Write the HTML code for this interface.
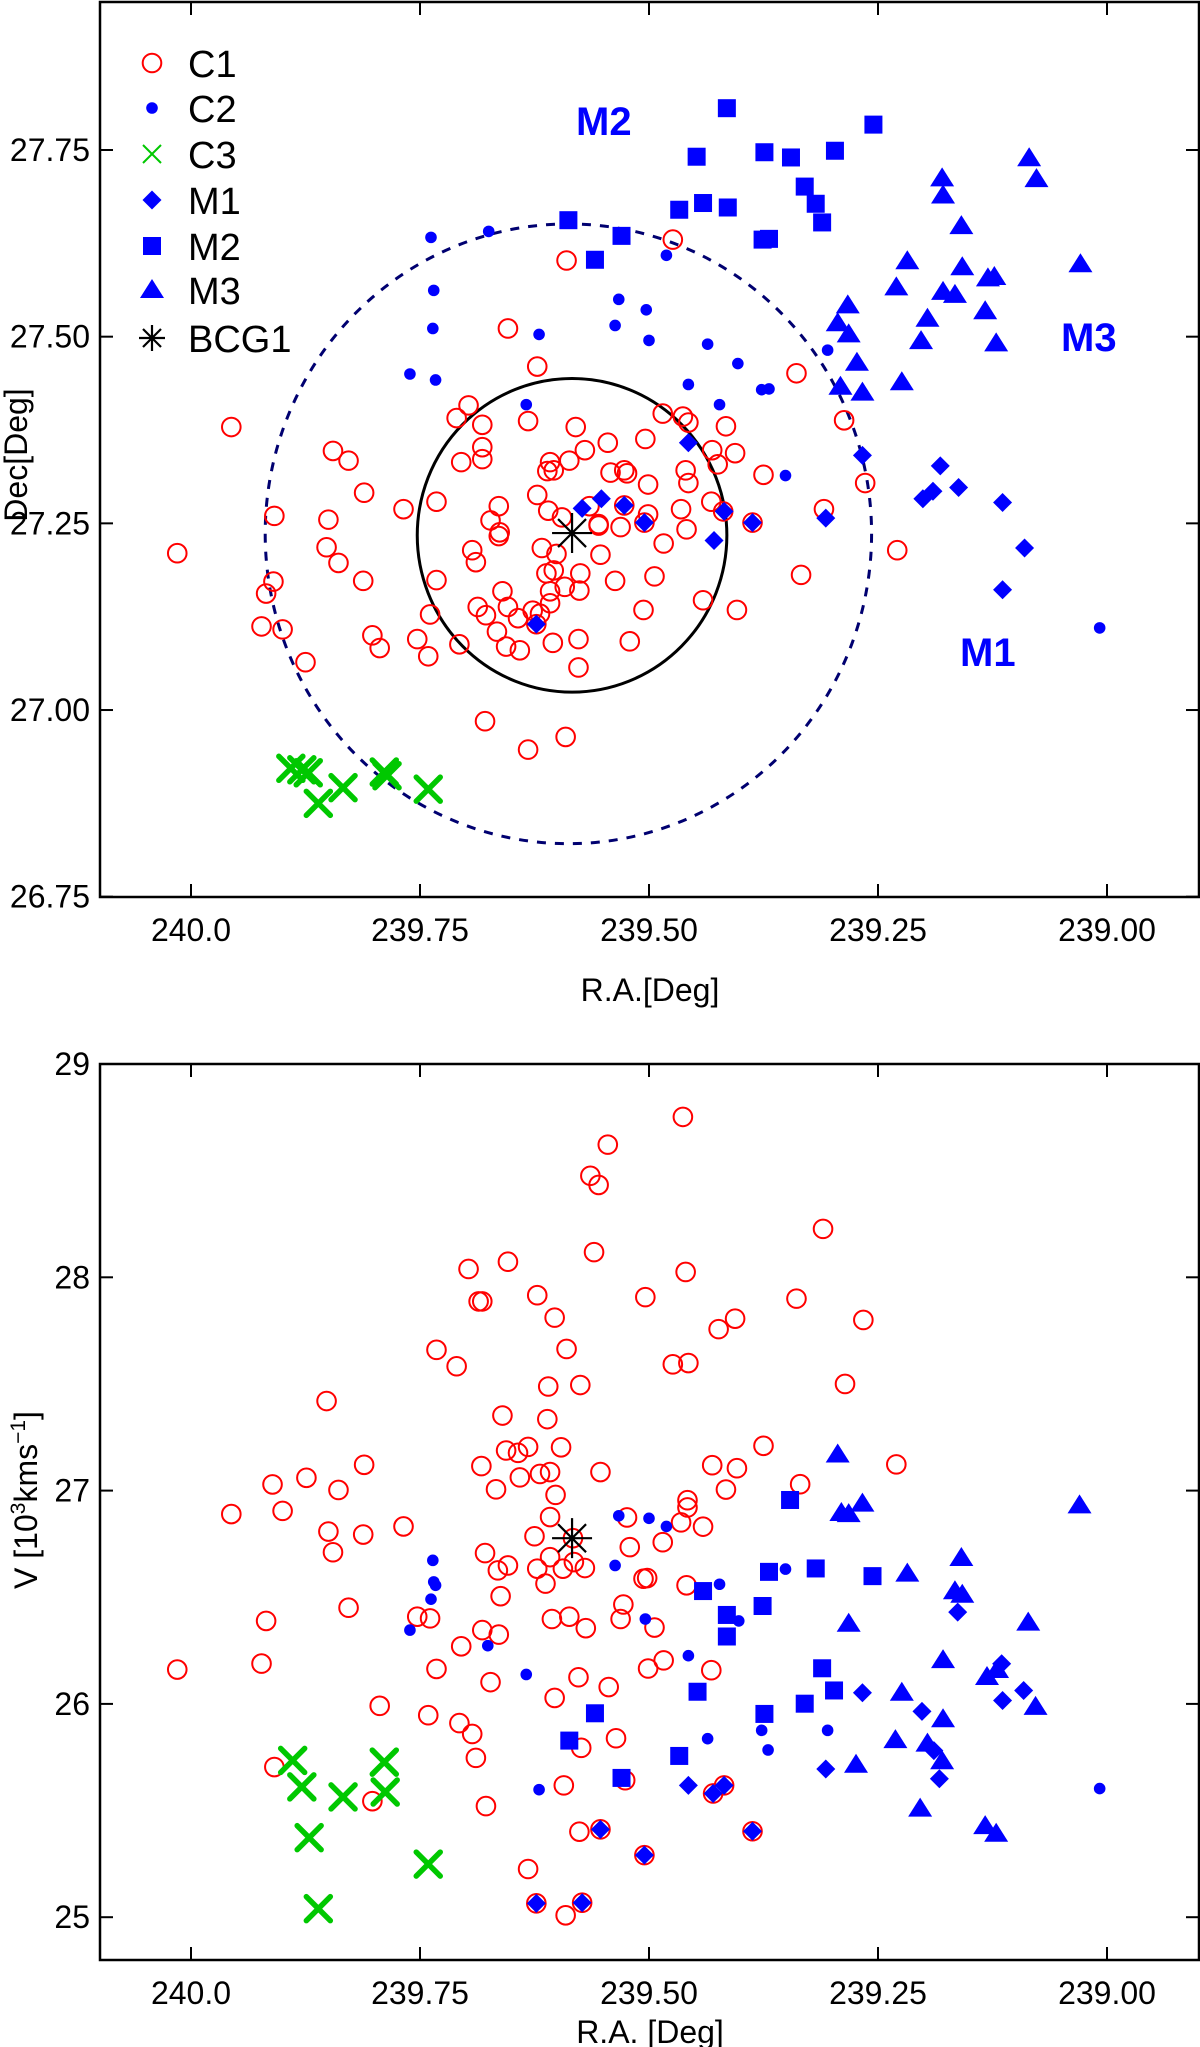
<!DOCTYPE html>
<html><head><meta charset="utf-8"><style>
html,body{margin:0;padding:0;background:#fff;}
svg{display:block;font-family:"Liberation Sans",Arial,sans-serif;}
</style></head><body>
<svg id="fig" width="1200" height="2047" viewBox="0 0 1200 2047" xmlns="http://www.w3.org/2000/svg">
<g id="topPanel"></g>
<g id="botPanel"></g>
</svg>
<script>
// ---- axis ticks ----
const raTicks = [240.0, 239.75, 239.50, 239.25, 239.00];
const raTickLabels = ["240.0", "239.75", "239.50", "239.25", "239.00"];
const decTicks = [27.75, 27.50, 27.25, 27.00, 26.75];
const decTickLabels = ["27.75", "27.50", "27.25", "27.00", "26.75"];
const vTicks = [29, 28, 27, 26, 25];
const vTickLabels = ["29", "28", "27", "26", "25"];

// ---- top panel (RA, Dec) ----
const topC1ra = [239.956,240.015,239.909,239.910,239.918,239.923,239.900,239.875,239.845,239.828,239.811,239.850,239.852,239.839,239.812,239.802,239.794,239.768,239.732,239.732,239.739,239.753,239.741,239.707,239.710,239.697,239.682,239.682,239.682,239.705,239.654,239.622,239.632,239.664,239.673,239.664,239.663,239.693,239.689,239.622,239.617,239.660,239.654,239.687,239.678,239.666,239.643,239.627,239.619,239.656,239.641,239.679,239.632,239.591,239.611,239.610,239.612,239.608,239.623,
239.474,239.590,239.339,239.287,239.264,239.309,239.229,239.334,239.404,239.441,239.506,239.521,239.577,239.577,239.605,239.494,239.537,239.575,239.576,239.592,239.553,239.484,239.459,239.465,239.432,239.419,239.387,239.501,239.505,239.531,239.555,239.527,239.501,239.457,239.460,239.542,239.527,239.524,239.587,239.608,239.570,239.545,239.504,239.580,239.485,239.463,239.457,239.416,239.431,239.425,239.406,239.375,239.565,239.555,239.604,239.595,239.601,239.604,239.608];
const topC1dec = [27.379,27.210,27.260,27.172,27.156,27.112,27.108,27.064,27.347,27.334,27.291,27.255,27.218,27.197,27.173,27.100,27.083,27.269,27.279,27.174,27.128,27.095,27.072,27.088,27.391,27.408,27.382,27.352,27.336,27.332,27.511,27.460,27.387,27.273,27.254,27.233,27.238,27.214,27.198,27.288,27.217,27.159,27.138,27.138,27.127,27.105,27.123,27.133,27.129,27.085,27.080,26.985,26.947,26.964,27.320,27.267,27.183,27.159,27.115,
27.630,27.602,27.451,27.388,27.304,27.269,27.214,27.181,27.134,27.147,27.134,27.092,27.095,27.057,27.090,27.179,27.173,27.183,27.160,27.165,27.208,27.223,27.242,27.269,27.279,27.266,27.251,27.262,27.251,27.245,27.249,27.274,27.302,27.304,27.321,27.318,27.321,27.317,27.334,27.332,27.348,27.358,27.363,27.379,27.397,27.393,27.385,27.380,27.348,27.329,27.344,27.315,27.273,27.247,27.321,27.258,27.209,27.187,27.143];
const topC2ra = [239.738,239.675,239.735,239.736,239.761,239.733,239.620,239.634,239.481,239.533,239.503,239.537,239.500,239.436,239.403,239.305,239.457,239.377,239.369,239.423,239.351,239.008];
const topC2dec = [27.633,27.641,27.562,27.511,27.450,27.442,27.503,27.409,27.609,27.550,27.536,27.515,27.495,27.490,27.464,27.482,27.436,27.429,27.430,27.409,27.314,27.110];
const topC3ra = [239.891,239.879,239.872,239.861,239.834,239.789,239.741,239.786];
const topC3dec = [26.922,26.920,26.916,26.875,26.896,26.917,26.894,26.912];
const topM1ra = [239.457,239.267,239.182,239.190,239.201,239.162,239.114,239.090,239.114,239.307,239.387,239.418,239.429,239.505,239.527,239.552,239.573,239.623];
const topM1dec = [27.358,27.341,27.327,27.293,27.283,27.298,27.278,27.217,27.161,27.257,27.251,27.266,27.227,27.251,27.274,27.283,27.270,27.115];
const topM2ra = [239.415,239.255,239.448,239.374,239.345,239.297,239.330,239.318,239.311,239.467,239.441,239.414,239.588,239.530,239.559,239.376,239.369];
const topM2dec = [27.806,27.784,27.741,27.747,27.740,27.749,27.701,27.678,27.653,27.670,27.679,27.673,27.656,27.635,27.603,27.630,27.631];
const topM3ra = [239.085,239.077,239.180,239.179,239.159,239.218,239.158,239.130,239.123,239.029,239.230,239.179,239.166,239.283,239.196,239.133,239.294,239.282,239.203,239.121,239.273,239.224,239.291,239.267];
const topM3dec = [27.739,27.711,27.712,27.689,27.648,27.601,27.593,27.578,27.580,27.597,27.566,27.560,27.556,27.542,27.524,27.534,27.518,27.503,27.494,27.491,27.465,27.439,27.433,27.425];
const bcgRa = [239.584];
const bcgDec = [27.237];
const bcgV = [26.777];
const innerCircle = [239.584, 27.234, 0.169, 0.210];
const outerCircle = [239.588, 27.236, 0.331, 0.415];

// ---- bottom panel (RA, V) ----
const botC1ra = [239.463,239.545,239.564,239.555,239.560,239.697,239.654,239.460,239.686,239.682,239.622,239.504,239.603,239.406,239.424,239.732,239.710,239.590,239.474,239.457,239.610,239.575,239.852,239.660,239.611,239.656,239.643,239.632,239.596,239.683,239.553,239.431,239.404,239.811,239.874,239.911,239.839,239.667,239.641,239.619,239.608,239.602,239.416,239.458,
239.956,239.900,239.850,239.812,239.845,239.768,239.679,239.665,239.654,239.662,239.625,239.608,239.622,239.608,239.594,239.582,239.583,239.570,239.613,239.524,239.521,239.485,239.465,239.441,239.458,239.506,239.502,239.459,239.528,239.531,239.494,239.606,239.587,239.569,239.753,239.739,239.682,239.664,239.705,239.828,239.918,239.923,240.015,239.732,239.673,239.577,239.544,239.603,239.501,239.484,239.432,239.794,239.741,239.707,239.693,239.689,239.536,239.574,239.909,239.802,239.678,239.593,239.526,239.430,239.418,239.576,239.553,239.505,239.632,239.623,239.573,239.591,
239.375,239.230,239.335,239.387,239.310,239.339,239.286,239.266];
const botC1v = [28.752,28.622,28.476,28.433,28.118,28.039,28.073,28.025,27.887,27.887,27.916,27.907,27.811,27.806,27.757,27.660,27.583,27.664,27.592,27.598,27.488,27.495,27.420,27.352,27.335,27.188,27.177,27.205,27.203,27.115,27.087,27.119,27.105,27.121,27.060,27.029,27.003,27.006,27.062,27.078,27.087,26.980,27.005,26.955,
26.890,26.905,26.808,26.794,26.711,26.832,26.707,26.626,26.649,26.505,26.786,26.876,26.634,26.688,26.634,26.665,26.777,26.637,26.564,26.874,26.735,26.758,26.851,26.831,26.921,26.587,26.590,26.556,26.466,26.398,26.358,26.398,26.409,26.355,26.409,26.401,26.346,26.325,26.270,26.451,26.389,26.189,26.161,26.164,26.102,26.125,26.079,26.028,26.166,26.204,26.158,25.991,25.947,25.910,25.859,25.747,25.839,25.794,25.704,25.544,25.521,25.618,25.642,25.580,25.618,25.401,25.412,25.291,25.226,25.065,25.068,25.009,
27.210,27.123,27.030,25.403,28.227,27.900,27.500,27.800];
const botC2ra = [239.736,239.735,239.733,239.738,239.761,239.676,239.634,239.537,239.533,239.500,239.481,239.423,239.504,239.402,239.457,239.436,239.620,239.351,239.377,239.370,239.305,239.008];
const botC2v = [26.673,26.572,26.556,26.491,26.346,26.273,26.138,26.649,26.882,26.870,26.832,26.561,26.398,26.389,26.226,25.837,25.598,26.632,25.876,25.784,25.876,25.603];
const botC3ra = [239.889,239.879,239.834,239.789,239.788,239.871,239.741,239.861];
const botC3v = [25.735,25.611,25.564,25.727,25.587,25.373,25.249,25.040];
const botM1ra = [239.553,239.505,239.623,239.573,239.457,239.430,239.418,239.163,239.267,239.202,239.114,239.091,239.115,239.189,239.183,239.307,239.387];
const botM1v = [25.412,25.291,25.065,25.068,25.618,25.580,25.618,26.430,26.052,25.965,26.016,26.063,26.188,25.781,25.649,25.695,25.403];
const botM2ra = [239.441,239.415,239.415,239.447,239.559,239.587,239.530,239.467,239.346,239.369,239.318,239.256,239.376,239.311,239.298,239.330,239.374];
const botM2v = [26.529,26.417,26.316,26.057,25.956,25.828,25.653,25.756,26.956,26.619,26.635,26.599,26.459,26.167,26.063,26.001,25.953];
const botM3ra = [239.294,239.267,239.290,239.282,239.159,239.218,239.166,239.158,239.282,239.086,239.179,239.131,239.120,239.224,239.078,239.179,239.231,239.196,239.180,239.274,239.204,239.133,239.121,239.030];
const botM3v = [27.169,26.939,26.895,26.890,26.684,26.611,26.528,26.512,26.376,26.381,26.205,26.126,26.159,26.052,25.986,25.928,25.830,25.814,25.731,25.715,25.509,25.427,25.391,26.931];

const NS = "http://www.w3.org/2000/svg";
const RED = "#ff0000", BLUE = "#0000ff", GREEN = "#00c800";
function X(ra){ return 191 + (240 - ra) * 916; }
function Ytop(d){ return 150 + (27.75 - d) * 746.7; }
function Ybot(v){ return 1064 + (29 - v) * 213.3; }
function mk(tag, parent, attrs){
  const e = document.createElementNS(NS, tag);
  for (const k in attrs) e.setAttribute(k, attrs[k]);
  parent.appendChild(e); return e;
}
function txt(parent, x, y, s, size, anchor, extra){
  const t = mk("text", parent, Object.assign({x:x, y:y, "font-size":size, "text-anchor":anchor, fill:"#000"}, extra||{}));
  t.textContent = s; return t;
}
function marker(parent, kind, cx, cy, name, big){
  let e;
  if (kind === "c1") { e = mk("circle", parent, {cx:cx, cy:cy, r:9.3, fill:"none", stroke:RED, "stroke-width":2}); }
  else if (kind === "c2") { e = mk("circle", parent, {cx:cx, cy:cy, r:5.8, fill:BLUE}); }
  else if (kind === "m1") { e = mk("polygon", parent, {points:`${cx},${cy-9.5} ${cx+9.5},${cy} ${cx},${cy+9.5} ${cx-9.5},${cy}`, fill:BLUE}); }
  else if (kind === "m2") { e = mk("rect", parent, {x:cx-9, y:cy-9, width:18, height:18, fill:BLUE}); }
  else if (kind === "m3") { e = mk("polygon", parent, {points:`${cx},${cy-11} ${cx+12},${cy+8} ${cx-12},${cy+8}`, fill:BLUE}); }
  else if (kind === "c3") {
    const s = big ? 12 : 9, w = big ? 5.5 : 2;
    e = mk("path", parent, {d:`M${cx-s},${cy-s}L${cx+s},${cy+s}M${cx+s},${cy-s}L${cx-s},${cy+s}`, stroke:GREEN, "stroke-width":w, "stroke-linecap":big?"round":"butt", fill:"none"});
  } else {
    const s = big ? 20 : 13, d = big ? 14 : 9;
    e = mk("path", parent, {d:`M${cx-s},${cy}L${cx+s},${cy}M${cx},${cy-s}L${cx},${cy+s}M${cx-d},${cy-d}L${cx+d},${cy+d}M${cx+d},${cy-d}L${cx-d},${cy+d}`, stroke:"#000", "stroke-width":2.2, fill:"none"});
  }
  
  
  return e;
}
function series(parent, kind, xs, ys, yfn, name){
  const g = mk("g", parent, {});
  
  
  for (let i = 0; i < xs.length; i++) marker(g, kind, X(xs[i]), yfn(ys[i]), name + '-point', true);
}
function frame(parent, y0, y1, yTicks, yLabels, yfn, prefix){
  const f = mk("rect", parent, {x:100, y:y0, width:1099, height:y1-y0, fill:"none", stroke:"#000", "stroke-width":2.5});
  
  
  for (let i = 0; i < raTicks.length; i++) {
    const x = X(raTicks[i]);
    mk("line", parent, {x1:x, y1:y1, x2:x, y2:y1-13, stroke:"#000", "stroke-width":2});
    mk("line", parent, {x1:x, y1:y0, x2:x, y2:y0+13, stroke:"#000", "stroke-width":2});
    const t = txt(parent, x, y1+44, raTickLabels[i], 32, "middle");
    
    
  }
  for (let i = 0; i < yTicks.length; i++) {
    const y = yfn(yTicks[i]);
    mk("line", parent, {x1:100, y1:y, x2:113, y2:y, stroke:"#000", "stroke-width":2});
    mk("line", parent, {x1:1199, y1:y, x2:1186, y2:y, stroke:"#000", "stroke-width":2});
    const t = txt(parent, 90, y+11, yLabels[i], 32, "end");
    
    
  }
}

// ===== TOP PANEL =====
const topG = document.getElementById("topPanel");
frame(topG, 2, 897, decTicks, decTickLabels, Ytop, "top");
const oc = mk("ellipse", topG, {cx:X(outerCircle[0]), cy:Ytop(outerCircle[1]), rx:outerCircle[2]*916, ry:outerCircle[3]*746.7, fill:"none", stroke:"#000070", "stroke-width":3, "stroke-dasharray":"9 9"});


const ic = mk("ellipse", topG, {cx:X(innerCircle[0]), cy:Ytop(innerCircle[1]), rx:innerCircle[2]*916, ry:innerCircle[3]*746.7, fill:"none", stroke:"#000", "stroke-width":3});


series(topG, "c1", topC1ra, topC1dec, Ytop, "top-c1");
series(topG, "c2", topC2ra, topC2dec, Ytop, "top-c2");
series(topG, "c3", topC3ra, topC3dec, Ytop, "top-c3");
series(topG, "m1", topM1ra, topM1dec, Ytop, "top-m1");
series(topG, "m2", topM2ra, topM2dec, Ytop, "top-m2");
series(topG, "m3", topM3ra, topM3dec, Ytop, "top-m3");
series(topG, "bcg", bcgRa, bcgDec, Ytop, "top-bcg1");
const lblM2 = txt(topG, 576, 135, "M2", 40, "start", {fill:BLUE, "font-weight":"bold"});


const lblM3 = txt(topG, 1061, 351, "M3", 40, "start", {fill:BLUE, "font-weight":"bold"});


const lblM1 = txt(topG, 960, 666, "M1", 40, "start", {fill:BLUE, "font-weight":"bold"});


const topXT = txt(topG, 650, 1001, "R.A.[Deg]", 32, "middle");


const topYT = txt(topG, 0, 0, "Dec[Deg]", 32, "middle", {transform:"translate(27,455) rotate(-90)"});



const lg = mk("g", topG, {});


const legKinds = ["c1","c2","c3","m1","m2","m3","bcg"];
const legLabels = ["C1","C2","C3","M1","M2","M3","BCG1"];
const legRows = [63,108,154,200,246,290,338];
for (let i = 0; i < legKinds.length; i++) {
  marker(lg, legKinds[i], 152, legRows[i], 'legend-marker-' + legLabels[i].toLowerCase(), false);
  const t = txt(lg, 188, legRows[i]+14, legLabels[i], 38, "start");
  
  
}

// ===== BOTTOM PANEL =====
const botG = document.getElementById("botPanel");
frame(botG, 1064, 1960, vTicks, vTickLabels, Ybot, "bottom");
series(botG, "c1", botC1ra, botC1v, Ybot, "bottom-c1");
series(botG, "c2", botC2ra, botC2v, Ybot, "bottom-c2");
series(botG, "c3", botC3ra, botC3v, Ybot, "bottom-c3");
series(botG, "m1", botM1ra, botM1v, Ybot, "bottom-m1");
series(botG, "m2", botM2ra, botM2v, Ybot, "bottom-m2");
series(botG, "m3", botM3ra, botM3v, Ybot, "bottom-m3");
series(botG, "bcg", bcgRa, bcgV, Ybot, "bottom-bcg1");
const botXT = txt(botG, 650, 2043, "R.A. [Deg]", 32, "middle");


const botYT = mk("text", botG, {"font-size":32, "text-anchor":"middle", fill:"#000", transform:"translate(37,1500) rotate(-90)"});


botYT.innerHTML = 'V [10<tspan dy="-12" font-size="21">3</tspan><tspan dy="12">kms</tspan><tspan dy="-12" font-size="21">−1</tspan><tspan dy="12">]</tspan>';
</script>
</body></html>
